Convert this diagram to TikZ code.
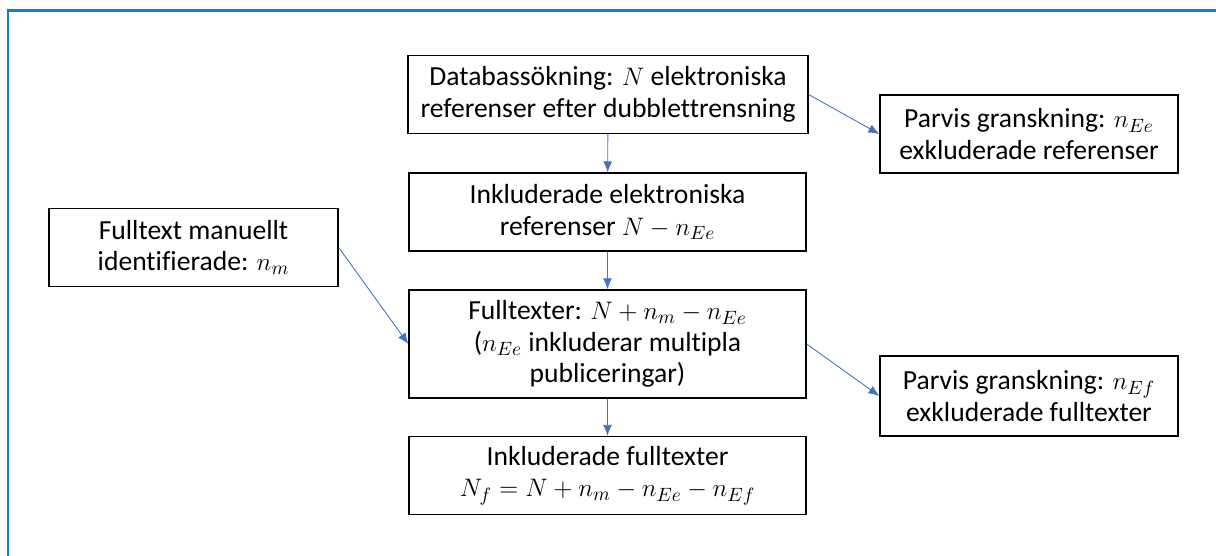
\documentclass[tikz,border=0pt]{standalone}
\usepackage{fontspec}
\setmainfont{Carlito}[Ligatures=NoCommon]
\usetikzlibrary{arrows.meta}
\definecolor{framecol}{RGB}{22,128,190}
\definecolor{arrowcol}{RGB}{68,114,196}
\tikzset{
  >={Latex[length=2.2mm,width=1.8mm]},
}
\tikzstyle{every node}=[font=\fontsize{15.7}{18}\selectfont]
\tikzstyle{box}=[draw,line width=0.8pt,align=center,inner sep=2pt,
  minimum width=7.94cm,minimum height=1.56cm]
\tikzstyle{sidebox}=[box,minimum width=5.96cm]
\tikzstyle{flow}=[->,arrowcol,line width=0.5pt]

\begin{document}
\begin{tikzpicture}[x=0.02cm,y=-0.02cm]
    \useasboundingbox (0,0) rectangle (1216,555);
    \draw[framecol,line width=1.2pt] (8,560)--(8,10.5)--(1220,10.5);
    % main column
    \node[box,minimum width=8cm] (search) at (608,94.5)
      {Databassökning: $N$ elektroniska\\referenser efter dubblettrensning};
    \node[box] (inclref) at (607.5,212)
      {Inkluderade elektroniska\\referenser $N-n_{Ee}$};
    \node[box,minimum height=2.16cm] (fulltext) at (607.5,344)
      {Fulltexter: $N+n_m-n_{Ee}$\\($n_{Ee}$ inkluderar multipla\\publiceringar)};
    \node[box] (inclfull) at (607.5,475.5)
      {Inkluderade fulltexter\\$N_f=N+n_m-n_{Ee}-n_{Ef}$};
    % side boxes
    \node[sidebox,minimum width=5.78cm] (manual) at (193.5,247.5)
      {Fulltext manuellt\\identifierade: $n_m$};
    \node[sidebox] (exclref) at (1029,134)
      {Parvis granskning: $n_{Ee}$\\exkluderade referenser};
    \node[sidebox,minimum height=1.6cm] (exclfull) at (1029,396)
      {Parvis granskning: $n_{Ef}$\\exkluderade fulltexter};
    % connectors
    \draw[flow] (search)--(inclref);
    \draw[flow] (inclref)--(fulltext);
    \draw[flow] (fulltext)--(inclfull);
    \draw[flow] (search.east)--(exclref.west);
    \draw[flow] (manual.east)--(fulltext.west);
    \draw[flow] (fulltext.east)--(exclfull.west);
\end{tikzpicture}
\end{document}
